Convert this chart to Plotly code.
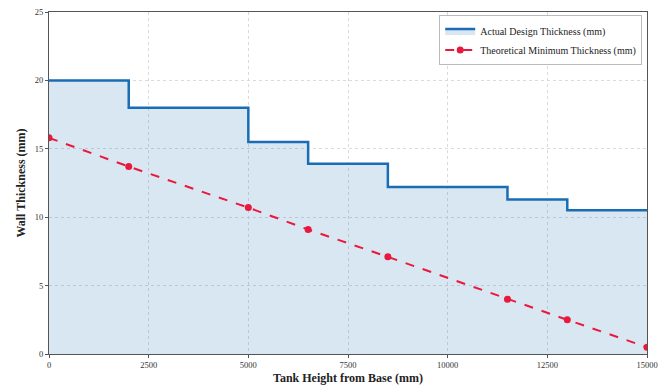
import plotly.graph_objects as go

heights = [0, 2000, 5000, 6500, 8500, 11500, 13000, 15000]
actual_thickness = [20, 18, 15.5, 13.9, 12.2, 11.3, 10.5, 10.5]
theoretical_thickness = [15.8, 13.7, 10.7, 9.1, 7.1, 4.0, 2.5, 0.5]
x_ticks = [0, 2500, 5000, 7500, 10000, 12500, 15000]
y_ticks = [0, 5, 10, 15, 20, 25]

FONT = "Liberation Serif"

fig = go.Figure()
fig.add_trace(go.Scatter(
    x=heights, y=actual_thickness, mode="lines", line_shape="hv",
    name="Actual Design Thickness (mm)",
    line=dict(color="#1a6db5", width=2.5),
    fill="tozeroy", fillcolor="rgba(31,110,180,0.17)",
))
fig.add_trace(go.Scatter(
    x=heights, y=theoretical_thickness, mode="lines+markers",
    name="Theoretical Minimum Thickness (mm)",
    line=dict(color="#e8193c", width=2, dash="dash"),
    marker=dict(color="#e8193c", size=7),
    cliponaxis=True,
))

axis_common = dict(
    showline=True, linecolor="#555", linewidth=1.2, mirror=True,
    showgrid=True, gridcolor="#dadada", griddash="dot", gridwidth=1,
    ticks="outside", ticklen=3, tickcolor="#555",
    tickfont=dict(family=FONT, size=8.5, color="#333"),
    zeroline=False, automargin=False,
)

fig.update_xaxes(range=[0, 15000], tickvals=x_ticks, ticktext=[str(v) for v in x_ticks],
                 title=dict(text="<b>Tank Height from Base (mm)</b>",
                            font=dict(family=FONT, size=12, color="#222"), standoff=4),
                 **axis_common)
fig.update_yaxes(range=[0, 25], tickvals=y_ticks, ticktext=[str(v) for v in y_ticks],
                 title=dict(text="<b>Wall Thickness (mm)</b>",
                            font=dict(family=FONT, size=12, color="#222"), standoff=6),
                 **axis_common)

fig.update_layout(
    width=666, height=385,
    margin=dict(l=49, r=19, t=12, b=31),
    paper_bgcolor="white", plot_bgcolor="white",
    font=dict(family=FONT, color="#222"),
    legend=dict(x=0.992, y=0.99, xanchor="right", yanchor="top",
                bgcolor="rgba(255,255,255,0.9)", bordercolor="#bbb", borderwidth=1,
                font=dict(family=FONT, size=10, color="#222"),
                tracegroupgap=0, itemwidth=30),
    showlegend=True,
)

fig.write_html("out.html", config={"displayModeBar": False},
               post_script="document.body.style.margin='0';")
